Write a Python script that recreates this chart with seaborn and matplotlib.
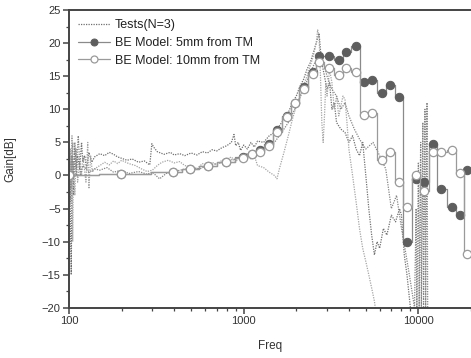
import numpy as np
import pandas as pd
import matplotlib
matplotlib.use("Agg")
import matplotlib.pyplot as plt
import matplotlib.ticker as mticker
import seaborn as sns

t1_freq = [100, 101, 102, 103, 104, 105, 106, 108, 110, 112, 115, 118, 120, 123, 126, 130, 135, 140,
           150, 160, 170, 180, 190, 200, 215, 230, 250, 270, 290, 298, 305, 320, 350, 380, 400, 430,
           460, 500, 540, 580, 620, 660, 700, 750, 800, 850, 880, 900, 930, 960, 1000, 1050, 1100,
           1150, 1200, 1300, 1400, 1500, 1600, 1700, 1800, 1900, 2000, 2100, 2200, 2300, 2400, 2500,
           2600, 2700, 2750, 2800, 2900, 3000, 3100, 3200, 3300, 3400, 3600, 3800, 4000, 4200, 4400,
           4600, 4800, 5000, 5200, 5400, 5600, 5800, 6000, 6300, 6600, 7000, 7400, 7800, 8000, 8300,
           8600, 9000, 9300]
t1_gain = [0, 3, -8, -15, 2, 5, -3, 4, 0, 3, 1, 5, 2, 3, 1, 3.5, 2, 2.8,
           3.3, 3.0, 3.5, 3.2, 2.8, 2.6, 2.3, 2.5, 2.0, 2.2, 1.6, 4.8, 4.3, 3.6, 3.2, 3.5, 3.1, 3.3,
           3.0, 3.4, 3.1, 3.6, 3.4, 3.9, 3.7, 4.2, 4.5, 5.0, 6.2, 4.5, 5.0, 3.8, 4.6, 4.0, 5.0,
           4.3, 5.2, 5.0, 6.0, 6.5, 7.5, 8.5, 9.5, 11, 12, 13.5, 14.5, 16, 17, 18.5,
           20, 21.5, 19, 17, 15, 13, 14, 10, 11, 8, 7, 6.5, 5, 6, 4,
           3, 5, 0, -5, -9, -12, -10, -11, -8, -9, -6, -7, -5, -6, -12,
           -15, -20, -25]

t2_freq = [100, 101, 102, 103, 104, 105, 106, 108, 110, 112, 115, 118, 120, 125, 128, 130, 133, 136,
           140, 150, 160, 170, 180, 190, 200, 220, 240, 260, 280, 300, 320, 340, 370, 400, 430, 460,
           500, 540, 580, 620, 660, 700, 750, 800, 850, 900, 950, 1000, 1050, 1100, 1150, 1200, 1300,
           1400, 1500, 1550, 1600, 1700, 1800, 1900, 2000, 2100, 2200, 2300, 2400, 2500, 2600, 2650,
           2700, 2750, 2800, 2850, 2900, 2950, 3000, 3100, 3200, 3300, 3400, 3500, 3700, 3800, 3900,
           4000, 4200, 4400, 4600, 4800, 5000, 5200, 5400, 5600, 5800]
t2_gain = [0, -5, 4, -2, 6, -10, 2, -3, 4, -1, 2, 0, 3, -1, 5, -2, 3, 0.5,
           1, 1.5, 2.0, 1.6, 2.2, 1.8, 2.3, 1.8, 1.5, 1.0, 0.6, 0.8, 1.5, 2.0, 2.3, 1.9, 2.1, 1.5,
           1.3, 1.0, 1.8, 1.4, 2.0, 1.6, 2.3, 2.5, 2.8, 2.0, 3.0, 2.7, 3.4, 2.5, 3.0, 1.5, 1.2,
           0.5, 0.0, -0.5, 1.0, 3.5, 6, 8.5, 10.5, 12, 13.5, 15, 16.5, 18, 20, 22,
           21, 15, 8, 5, 9, 14, 12, 16, 14, 10, 12, 9, 12, 11.5, 8,
           4, 0, -4, -8, -11, -13, -15, -17, -19, -22]

t3_freq = [100, 101, 102, 104, 106, 108, 110, 113, 116, 120, 125, 130, 140, 150, 165, 180, 200, 220,
           250, 280, 300, 330, 360, 400, 450, 500, 560, 620, 700, 780, 860, 950, 1000, 1100, 1200,
           1300, 1400, 1500, 1650, 1800, 2000, 2200, 2400, 2600, 2700, 2800, 2900, 3000, 3200, 3400,
           3600, 3800, 4000, 4300, 4600, 5000, 5500, 6000, 6500, 7000, 7500, 8000, 8500, 9000, 9500,
           9700, 9800, 10000, 10100, 10300, 10400, 10600, 10700, 10900, 11000, 11200, 11300, 11500]
t3_gain = [0, 2, -4, 3, 0, 5, 1, 6, 0, 1.5, 1, 0.5, 1, 0.8, 1.2, 0.5, 0.8, 0.3,
           0.6, 0.2, 0.5, -0.5, 0.3, 0.6, 0.9, 1.2, 1.0, 1.5, 1.8, 2.0, 2.4, 2.6, 2.8, 3.5, 3.2,
           4.0, 4.5, 5.0, 6.5, 8.0, 10.5, 13, 15.5, 17.5, 18.2, 17, 16.5, 15, 13, 12,
           10, 11, 9, 7, 5.5, 4, 5, 3, 1, -5, -3, -8, -12, -16, -20,
           -5, -20, 2, -20, 5, -20, 8, -20, 10, -20, 11, -20, -20]

# ---- boundary-element model, 1/6-octave points ----
model_freq = [100, 198, 393, 491, 622, 788, 990, 1110, 1235, 1390, 1560, 1760, 1955, 2200, 2480,
              2690, 3060, 3490, 3870, 4370, 4850, 5460, 6150, 6920, 7780, 8650, 9750, 10800,
              12200, 13500, 15600, 17400, 19000]
model_5mm = [0, 0.3, 0.5, 1.0, 1.4, 2.0, 2.8, 3.3, 3.8, 4.8, 6.8, 9.0, 11.0, 13.3, 15.7,
             18.0, 18.0, 17.5, 18.7, 19.5, 14.2, 14.5, 12.5, 13.7, 11.9, -10.1, -0.6, -1.0,
             4.7, -2.0, -4.7, -6.0, 0.8]
model_10mm = [0, 0.3, 0.5, 1.0, 1.4, 2.0, 2.7, 3.2, 3.6, 4.5, 6.6, 8.8, 10.9, 13.1, 15.4,
              17.1, 16.3, 15.2, 16.3, 15.7, 9.2, 9.4, 2.4, 3.6, -1.0, -4.7, 0.15, -2.4,
              3.6, 3.6, 3.9, 0.45, -11.9]

sns.set_style("ticks")
plt.rcParams["font.family"] = ["Liberation Sans", "DejaVu Sans"]

fig = plt.figure(figsize=(4.71, 3.58), dpi=100)
ax = fig.add_axes([0.1465, 0.14, 0.8535, 0.832])

tests = [(t1_freq, t1_gain, "#707070"), (t2_freq, t2_gain, "#a5a5a5"), (t3_freq, t3_gain, "#858585")]
for i, (f, g, c) in enumerate(tests):
    d = pd.DataFrame({"Freq": f, "Gain": g})
    sns.lineplot(data=d, x="Freq", y="Gain", ax=ax, color=c, linestyle=(0, (1, 1)),
                 linewidth=0.9, label="Tests(N=3)" if i == 0 else None, legend=False)

m = pd.DataFrame({"Freq": model_freq, "m5": model_5mm, "m10": model_10mm})
sns.lineplot(data=m, x="Freq", y="m5", ax=ax, color="#8a8a8a", linewidth=0.9,
             drawstyle="steps-mid", marker="o", markersize=6, markerfacecolor="#5e5e5e",
             markeredgecolor="#5e5e5e", label="BE Model: 5mm from TM", legend=False)
sns.lineplot(data=m, x="Freq", y="m10", ax=ax, color="#9a9a9a", linewidth=0.9,
             drawstyle="steps-mid", marker="o", markersize=6, markerfacecolor="white",
             markeredgecolor="#9a9a9a", markeredgewidth=0.9, label="BE Model: 10mm from TM", legend=False)

ax.set_xscale("log")
ax.set_xlim(100, 20000)
ax.set_ylim(-20, 25)
ax.xaxis.set_major_locator(mticker.FixedLocator([100, 1000, 10000]))
ax.xaxis.set_major_formatter(mticker.FixedFormatter(["100", "1000", "10000"]))
ax.xaxis.set_minor_locator(mticker.LogLocator(base=10, subs=np.arange(2, 10)))
ax.xaxis.set_minor_formatter(mticker.NullFormatter())
ax.yaxis.set_major_locator(mticker.MultipleLocator(5))
ax.yaxis.set_minor_locator(mticker.MultipleLocator(2.5))

for s in ["left", "bottom", "top"]:
    ax.spines[s].set_color("#444444")
    ax.spines[s].set_linewidth(1.4)
ax.spines["right"].set_visible(False)
ax.tick_params(which="major", direction="out", length=4, width=1.1, color="#444444",
               labelsize=8, labelcolor="#333333", pad=2)
ax.tick_params(which="minor", direction="out", length=2.5, width=0.9, color="#444444")

ax.set_xlabel("Freq", fontsize=8.5, color="#333333", labelpad=10)
ax.set_ylabel("Gain[dB]", fontsize=8.5, color="#333333", labelpad=18)

leg = ax.legend(loc="upper left", frameon=False, fontsize=9, handlelength=2.5,
                handletextpad=0.4, labelspacing=0.45, borderaxespad=0.35,
                bbox_to_anchor=(0.0, 1.0))
for t in leg.get_texts():
    t.set_color("#222222")
for h in leg.legend_handles:
    h.set_markersize(5)

fig.savefig("out.png", dpi=100)
